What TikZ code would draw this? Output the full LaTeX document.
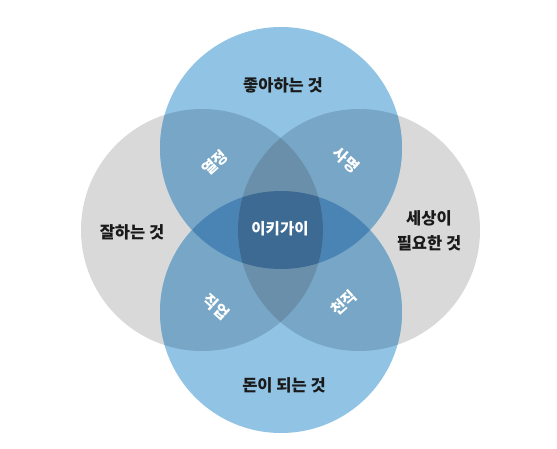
\documentclass[tikz,border=0pt]{standalone}
\usepackage{fontspec}
\newfontfamily\kr{Noto Sans CJK KR}
\definecolor{cg}{HTML}{D9D9D9}
\definecolor{cb}{HTML}{91C3E4}
\definecolor{cbg}{HTML}{78A6C6}
\definecolor{cbgg}{HTML}{6A8FAB}
\definecolor{cbbg}{HTML}{4A84B5}
\definecolor{call}{HTML}{3D6A92}
\definecolor{ink}{HTML}{1A1A1A}
\tikzset{
  lbl/.style={text=ink, font=\kr\bfseries\fontsize{16.5}{25}\selectfont, align=center, inner sep=0pt},
  wlbl/.style={text=white, font=\kr\bfseries\fontsize{15.5}{16}\selectfont, inner sep=0pt},
}
\begin{document}
\begin{tikzpicture}[x=1pt,y=1pt]
\useasboundingbox (0,0) rectangle (557,448);
\fill[white] (0,0) rectangle (557,448);
\coordinate (T) at (281,300);
\coordinate (B) at (281,136);
\coordinate (L) at (202,218);
\coordinate (R) at (359,218);
\def\rr{121pt}
% gray circles
\fill[cg] (L) circle[radius=\rr] (R) circle[radius=\rr];
% blue circles
\fill[cb] (T) circle[radius=\rr] (B) circle[radius=\rr];
% blue & gray
\begin{scope}
  \clip (T) circle[radius=\rr];
  \fill[cbg] (L) circle[radius=\rr] (R) circle[radius=\rr];
\end{scope}
\begin{scope}
  \clip (B) circle[radius=\rr];
  \fill[cbg] (L) circle[radius=\rr] (R) circle[radius=\rr];
\end{scope}
% blue & blue & gray
\begin{scope}
  \clip (T) circle[radius=\rr];
  \clip (B) circle[radius=\rr];
  \fill[cbbg] (L) circle[radius=\rr] (R) circle[radius=\rr];
\end{scope}
% gray & gray & blue
\begin{scope}
  \clip (L) circle[radius=\rr];
  \clip (R) circle[radius=\rr];
  \fill[cbgg] (T) circle[radius=\rr] (B) circle[radius=\rr];
\end{scope}
% all four
\begin{scope}
  \clip (L) circle[radius=\rr];
  \clip (R) circle[radius=\rr];
  \clip (T) circle[radius=\rr];
  \fill[call] (B) circle[radius=\rr];
\end{scope}
% labels
\node[lbl] (like) at (283,363) {좋아하는 것};
\node[lbl] (good) at (132,216) {잘하는 것};
\node[lbl] (need) at (429,217) {세상이\\필요한 것};
\node[lbl] (paid) at (284,63) {돈이 되는 것};
\node[wlbl] (iki) at (280,219) {이키가이};
\node[wlbl, rotate=42] (passion) at (215,285) {열정};
\node[wlbl, rotate=-42] (mission) at (346,288) {사명};
\node[wlbl, rotate=-42] (profession) at (216,141) {직업};
\node[wlbl, rotate=42] (vocation) at (344,145) {천직};
\end{tikzpicture}
\end{document}
